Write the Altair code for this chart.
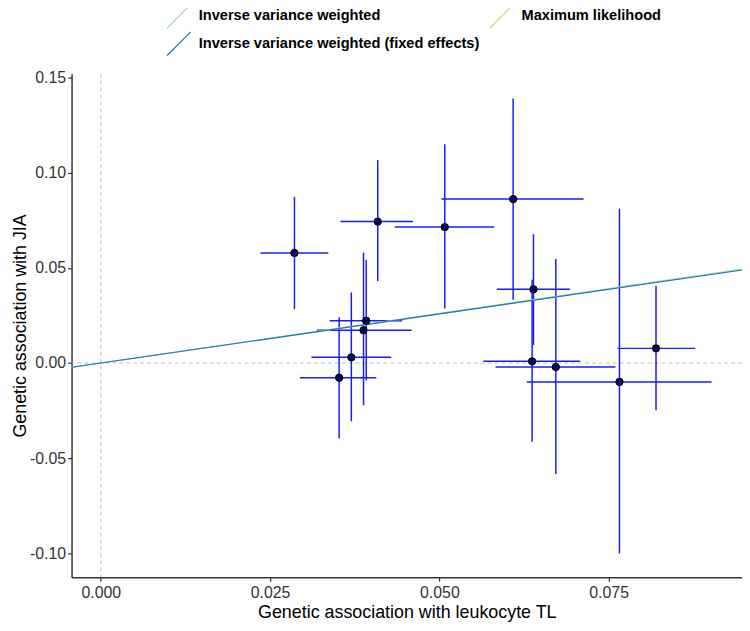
import altair as alt
import pandas as pd

# SNP-level estimates
bx = [0.0286, 0.0409, 0.0508, 0.0609, 0.0639, 0.0392, 0.0388, 0.0370, 0.0352, 0.0637, 0.0672, 0.0766, 0.0820]
by = [0.0578, 0.0743, 0.0714, 0.0861, 0.0387, 0.0222, 0.0172, 0.0030, -0.0077, 0.0009, -0.0021, -0.0099, 0.0077]
x_lo = [0.0236, 0.0354, 0.0434, 0.0503, 0.0585, 0.0338, 0.0319, 0.0311, 0.0294, 0.0565, 0.0583, 0.0629, 0.0763]
x_hi = [0.0336, 0.0461, 0.0581, 0.0713, 0.0693, 0.0445, 0.0459, 0.0429, 0.0407, 0.0708, 0.0760, 0.0902, 0.0878]
y_lo = [0.0283, 0.0431, 0.0286, 0.0333, 0.0095, -0.0092, -0.0222, -0.0306, -0.0396, -0.0413, -0.0583, -0.1000, -0.0248]
y_hi = [0.0873, 0.1066, 0.1149, 0.1389, 0.0676, 0.0542, 0.0580, 0.0371, 0.0241, 0.0438, 0.0547, 0.0811, 0.0406]

# MR method slopes
methods = ["Inverse variance weighted", "Maximum likelihood", "Inverse variance weighted (fixed effects)"]
slopes = [0.516, 0.521, 0.516]
method_colors = ["#a6cee3", "#b2df8a", "#1f78b4"]
draw_order = [1, 0, 2]  # ML drawn first, fixed effects on top

x_domain = [-0.00432, 0.0947]
y_domain = [-0.1125, 0.152]
x_ticks = [0.0, 0.025, 0.05, 0.075]
y_ticks = [-0.10, -0.05, 0.0, 0.05, 0.10, 0.15]

pts = pd.DataFrame({"bx": bx, "by": by, "xlo": x_lo, "xhi": x_hi, "ylo": y_lo, "yhi": y_hi})

line_rows = []
for i in draw_order:
    for xv in x_domain:
        line_rows.append({"method": methods[i], "order": draw_order.index(i), "x": xv, "y": slopes[i] * xv})
lines = pd.DataFrame(line_rows)

FONT = "Liberation Sans"

xs = alt.Scale(domain=x_domain, nice=False, zero=False)
ys = alt.Scale(domain=y_domain, nice=False, zero=False)

x_axis = alt.Axis(values=x_ticks, format=".3f", title="Genetic association with leukocyte TL",
                  grid=False, domain=True, domainColor="#333333", domainWidth=1.5,
                  tickColor="#333333", tickSize=4, tickWidth=1.2,
                  labelFont=FONT, labelFontSize=16, labelColor="#333333", labelPadding=3,
                  titleFont=FONT, titleFontSize=18, titleFontWeight="normal", titleColor="#000000",
                  titlePadding=4, labelFlush=False)
y_axis = alt.Axis(values=y_ticks, title="Genetic association with JIA",
                  labelExpr="replace(format(datum.value, '.2f'), '\u2212', '-')",
                  grid=False, domain=True, domainColor="#333333", domainWidth=1.5,
                  tickColor="#333333", tickSize=4, tickWidth=1.2,
                  labelFont=FONT, labelFontSize=16, labelColor="#333333", labelPadding=2,
                  titleFont=FONT, titleFontSize=18, titleFontWeight="normal", titleColor="#000000",
                  titlePadding=0, labelFlush=False)

base = alt.Chart(pts)

hzero = alt.Chart(pd.DataFrame({"v": [0.0]})).mark_rule(
    color="#bdbdbd", strokeDash=[4, 3], strokeWidth=1
).encode(y=alt.Y("v:Q", scale=ys, axis=y_axis))

vzero = alt.Chart(pd.DataFrame({"v": [0.0]})).mark_rule(
    color="#bdbdbd", strokeDash=[4, 3], strokeWidth=1
).encode(x=alt.X("v:Q", scale=xs, axis=x_axis))

herr = base.mark_rule(color="#1a1aff", strokeWidth=1.5).encode(
    x=alt.X("xlo:Q", scale=xs, axis=x_axis), x2="xhi:Q",
    y=alt.Y("by:Q", scale=ys, axis=y_axis))
verr = base.mark_rule(color="#1a1aff", strokeWidth=1.5).encode(
    x=alt.X("bx:Q", scale=xs, axis=x_axis),
    y=alt.Y("ylo:Q", scale=ys, axis=y_axis), y2="yhi:Q")

mr = alt.Chart(lines).mark_line(strokeWidth=1.2).encode(
    x=alt.X("x:Q", scale=xs, axis=x_axis),
    y=alt.Y("y:Q", scale=ys, axis=y_axis),
    color=alt.Color("method:N",
                    scale=alt.Scale(domain=methods, range=method_colors),
                    sort=methods,
                    legend=alt.Legend(title=None, orient="none", legendX=95, legendY=-71,
                                      columns=2, direction="horizontal",
                                      symbolType="M-1,1L1,-1", symbolSize=576,
                                      symbolStrokeWidth=1.2, symbolFillColor="transparent",
                                      labelFont=FONT, labelFontSize=14.7, labelFontWeight="bold",
                                      labelColor="#000000", labelOffset=7, labelLimit=400,
                                      columnPadding=7, rowPadding=-3, padding=0)),
    detail="order:O")

points = base.mark_point(filled=True, shape="circle", size=55, color="#0a0a50",
                         stroke="#000000", strokeWidth=1, opacity=1).encode(
    x=alt.X("bx:Q", scale=xs, axis=x_axis),
    y=alt.Y("by:Q", scale=ys, axis=y_axis))

chart = alt.layer(hzero, vzero, herr, verr, mr, points).properties(
    width=675, height=507,
    autosize=alt.AutoSizeParams(type="none"),
    padding={"left": 64, "top": 64, "right": 0, "bottom": 44},
    background="white"
).configure_view(stroke=None)

chart.save("out.html", embed_options={"renderer": "svg", "actions": False})
